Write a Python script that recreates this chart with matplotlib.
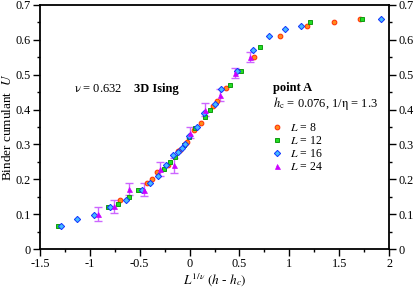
import matplotlib
matplotlib.use('Agg')
from matplotlib import pyplot as plt
from matplotlib.ticker import MultipleLocator, FormatStrFormatter

plt.rcParams['font.family'] = ['Liberation Serif', 'DejaVu Serif']
plt.rcParams['mathtext.fontset'] = 'stix'

# L = 8
x8 = [-0.70, -0.43, -0.38, -0.33, -0.22, -0.12, -0.094, -0.05, -0.03, 0.04, 0.11,
      0.235, 0.27, 0.37, 0.65, 0.91, 1.18, 1.45, 1.71]
u8 = [0.14, 0.19, 0.20, 0.22, 0.242, 0.28, 0.285, 0.30, 0.307, 0.342, 0.362,
      0.41, 0.424, 0.463, 0.55, 0.611, 0.641, 0.651, 0.66]
# L = 12
x12 = [-1.32, -0.82, -0.72, -0.61, -0.52, -0.26, -0.20, -0.15, -0.06, -0.01, 0.054,
       0.155, 0.20, 0.405, 0.515, 0.71, 1.21, 1.73]
u12 = [0.067, 0.121, 0.13, 0.15, 0.17, 0.23, 0.25, 0.263, 0.298, 0.32, 0.346,
       0.38, 0.40, 0.47, 0.51, 0.58, 0.651, 0.659]
# L = 16
x16 = [-1.29, -1.13, -0.96, -0.80, -0.64, -0.48, -0.40, -0.32, -0.24, -0.165, -0.12,
       -0.08, -0.046, -0.006, 0.077, 0.145, 0.255, 0.32, 0.48, 0.64, 0.80, 0.96, 1.12, 1.92]
u16 = [0.066, 0.085, 0.097, 0.12, 0.14, 0.17, 0.19, 0.21, 0.24, 0.27, 0.277,
       0.29, 0.302, 0.323, 0.35, 0.39, 0.417, 0.46, 0.51, 0.571, 0.611, 0.63, 0.641, 0.66]
# L = 24 (with errors)
x24 = [-0.92, -0.76, -0.61, -0.46, -0.30, -0.16, 0.004, 0.15, 0.305, 0.455, 0.61]
u24 = [0.10, 0.122, 0.172, 0.17, 0.23, 0.24, 0.334, 0.40, 0.443, 0.505, 0.551]
e24 = [0.02, 0.018, 0.018, 0.018, 0.02, 0.021, 0.015, 0.018, 0.017, 0.015, 0.014]

fig = plt.figure(figsize=(4.15, 2.94), dpi=100)
ax = fig.add_axes([0.0964, 0.153, 0.8410, 0.830])

ax.errorbar(x24, u24, yerr=e24, fmt='none', ecolor='#cc66ff', elinewidth=1.0,
            capsize=3, capthick=1.0, zorder=2)
ax.plot(x8, u8, 'o', ms=3.4, mfc='#ff8c1a', mec='#ff2a00', mew=0.7, label=r'$L$ = 8', zorder=3)
ax.plot(x12, u12, 's', ms=3.2, mfc='#22dd22', mec='#119911', mew=0.7, label=r'$L$ = 12', zorder=3)
ax.plot(x16, u16, 'D', ms=3.2, mfc='#44bbff', mec='#1133ff', mew=0.7, label=r'$L$ = 16', zorder=4)
ax.plot(x24, u24, '^', ms=3.6, mfc='#cc00ff', mec='#cc00ff', mew=0.5, label=r'$L$ = 24', zorder=5)

ax.set_xlim(-1.5, 2)
ax.set_ylim(0, 0.7)
ax.xaxis.set_major_locator(MultipleLocator(0.5))
ax.xaxis.set_minor_locator(MultipleLocator(0.25))
ax.yaxis.set_major_locator(MultipleLocator(0.1))
ax.yaxis.set_minor_locator(MultipleLocator(0.05))
ax.xaxis.set_major_formatter(FormatStrFormatter('%g'))
ax.yaxis.set_major_formatter(FormatStrFormatter('%g'))
ax.tick_params(which='both', direction='out', labelsize=8.8, width=1.0, pad=1.5,
               left=True, right=True, labelright=True, top=False)
ax.tick_params(which='major', length=5)
ax.tick_params(which='minor', length=2.5)
for s in ax.spines.values():
    s.set_linewidth(1.3)

ax.set_xlabel(r'$L^{1/\nu}$ $(h$ - $h_c)$', fontsize=9.5, labelpad=1)
ax.set_ylabel(r'Binder cumulant  $U$', fontsize=9.5, labelpad=1)

ax.text(-1.16, 0.451, r'$\mathrm{\nu}$ = 0.632', fontsize=9, va='baseline')
ax.text(-0.56, 0.451, '3D Ising', fontsize=9, fontweight='bold', va='baseline')
ax.text(0.84, 0.453, 'point A', fontsize=9, fontweight='bold', va='baseline')
ax.text(0.84, 0.408, r'$h_\mathrm{c}$ = 0.076, 1/$\mathrm{\eta}$ = 1.3', fontsize=9, va='baseline')

ax.legend(loc='upper left', bbox_to_anchor=(0.662, 0.52), frameon=False, fontsize=8.5,
          handlelength=1.0, handletextpad=0.6, labelspacing=0.08, borderpad=0.0,
          borderaxespad=0.0)

fig.savefig('out.png', dpi=100)
